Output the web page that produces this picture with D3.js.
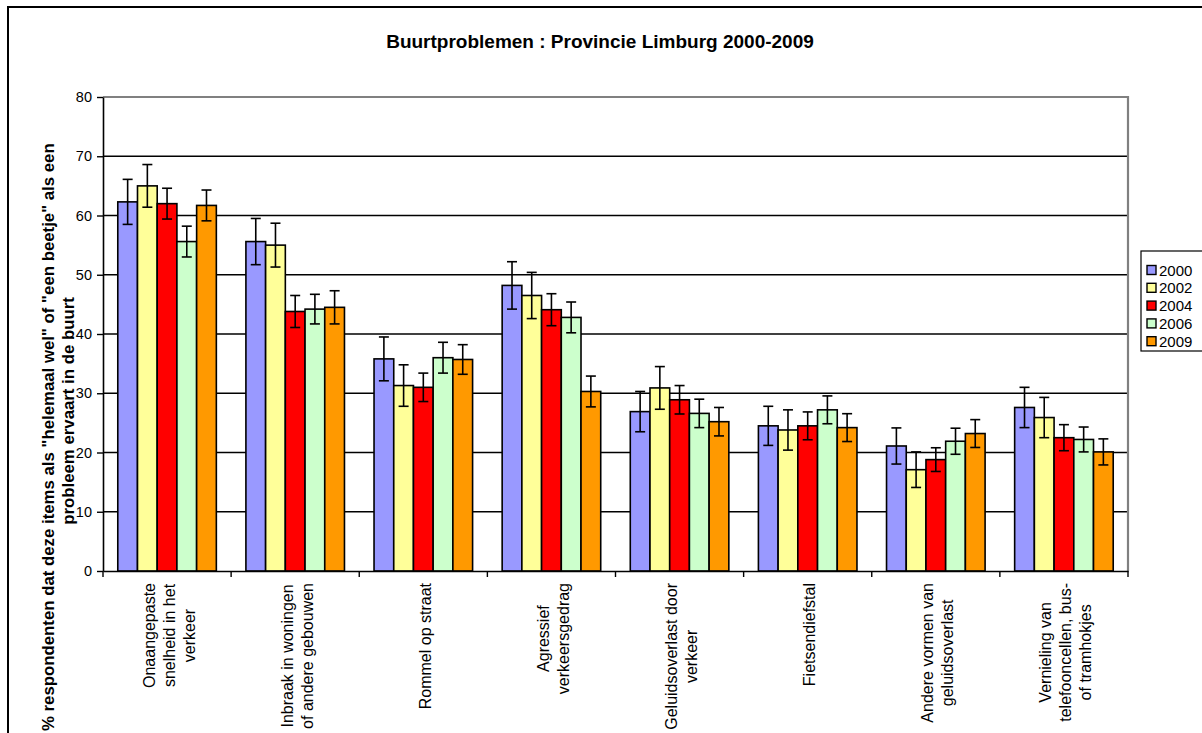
<!DOCTYPE html>
<html><head><meta charset="utf-8">
<script src="https://cdn.jsdelivr.net/npm/d3@7"></script>
<style>
body{margin:0;background:#fff}
svg{display:block}
text{font-family:"Liberation Sans",Arial,Helvetica,sans-serif;fill:#000}
</style>
</head><body>
<svg id="chart" width="1202" height="733"></svg>
<script>
const chartTitle = "Buurtproblemen : Provincie Limburg 2000-2009";
const yTitleLines = ['% respondenten dat deze items als "helemaal wel" of "een beetje" als een', 'probleem ervaart in de buurt'];
const categories = [
  ["Onaangepaste", "snelheid in het", "verkeer"],
  ["Inbraak in woningen", "of andere gebouwen"],
  ["Rommel op straat"],
  ["Agressief", "verkeersgedrag"],
  ["Geluidsoverlast door", "verkeer"],
  ["Fietsendiefstal"],
  ["Andere vormen van", "geluidsoverlast"],
  ["Vernieling van", "telefooncellen, bus-", "of tramhokjes"]
];
const years = ["2000", "2002", "2004", "2006", "2009"];
const colors = ["#9999FF", "#FFFF99", "#FF0000", "#CCFFCC", "#FF9900"];
const yTicks = [0, 10, 20, 30, 40, 50, 60, 70, 80];

const v2000 = [62.3, 55.6, 35.8, 48.2, 26.9, 24.5, 21.1, 27.6];
const v2002 = [65.0, 55.0, 31.3, 46.5, 30.9, 23.8, 17.1, 25.9];
const v2004 = [62.0, 43.8, 31.0, 44.1, 28.9, 24.5, 18.8, 22.5];
const v2006 = [55.6, 44.2, 36.0, 42.8, 26.6, 27.2, 21.9, 22.2];
const v2009 = [61.7, 44.5, 35.7, 30.3, 25.2, 24.2, 23.2, 20.1];

const e2000 = [3.8, 3.9, 3.7, 4.0, 3.4, 3.3, 3.05, 3.4];
const e2002 = [3.6, 3.7, 3.5, 3.9, 3.6, 3.4, 3.0, 3.4];
const e2004 = [2.6, 2.7, 2.4, 2.7, 2.4, 2.35, 2.0, 2.2];
const e2006 = [2.6, 2.5, 2.6, 2.6, 2.4, 2.35, 2.2, 2.1];
const e2009 = [2.6, 2.8, 2.5, 2.6, 2.4, 2.35, 2.35, 2.2];

const seriesValues = [v2000, v2002, v2004, v2006, v2009];
const seriesErrors = [e2000, e2002, e2004, e2006, e2009];

const svg = d3.select("#chart");
svg.append("rect").attr("width", 1202).attr("height", 733).attr("fill", "#fff");
// outer chart border
svg.append("rect").attr("x", 8).attr("y", 7).attr("width", 1220).attr("height", 760)
  .attr("fill", "none").attr("stroke", "#000").attr("stroke-width", 2);

const L = 103, R = 1128, T = 97, B = 571;
const x = d3.scaleBand().domain(d3.range(categories.length)).range([L, R]).paddingInner(0).paddingOuter(0);
const xs = d3.scaleBand().domain(years).range([0, x.bandwidth()]).paddingInner(0).paddingOuter(0.75);
const y = d3.scaleLinear().domain([0, 80]).range([B, T]);

// gridlines
svg.append("g").selectAll("line").data(yTicks.filter(t => t > 0 && t < 80)).join("line")
  .attr("x1", L).attr("x2", R).attr("y1", d => y(d)).attr("y2", d => y(d))
  .attr("stroke", "#000").attr("stroke-width", 1.4);
// plot area border top/right (gray)
svg.append("path").attr("d", `M${L},${y(80)}H${R}V${B}`).attr("fill", "none")
  .attr("stroke", "#808080").attr("stroke-width", 2.2);

// bars
const groups = svg.append("g").selectAll("g").data(categories).join("g")
  .attr("transform", (d, i) => `translate(${x(i)},0)`);
years.forEach((yr, s) => {
  groups.append("rect")
    .attr("x", xs(yr)).attr("width", xs.bandwidth())
    .attr("y", (d, i) => y(seriesValues[s][i]))
    .attr("height", (d, i) => B - y(seriesValues[s][i]))
    .attr("fill", colors[s]).attr("stroke", "#000").attr("stroke-width", 1.6);
});
// error bars
years.forEach((yr, s) => {
  const cx = xs(yr) + xs.bandwidth() / 2;
  const eg = groups.append("g");
  eg.append("line").attr("x1", cx).attr("x2", cx)
    .attr("y1", (d, i) => y(seriesValues[s][i] + seriesErrors[s][i]))
    .attr("y2", (d, i) => y(seriesValues[s][i] - seriesErrors[s][i]))
    .attr("stroke", "#000").attr("stroke-width", 1.6);
  [1, -1].forEach(sg => {
    eg.append("line").attr("x1", cx - 5).attr("x2", cx + 5)
      .attr("y1", (d, i) => y(seriesValues[s][i] + sg * seriesErrors[s][i]))
      .attr("y2", (d, i) => y(seriesValues[s][i] + sg * seriesErrors[s][i]))
      .attr("stroke", "#000").attr("stroke-width", 1.6);
  });
});

// y axis
const yAxis = svg.append("g").attr("transform", `translate(${L},0)`)
  .call(d3.axisLeft(y).tickValues(yTicks).tickSize(6).tickPadding(5).tickSizeOuter(0));
yAxis.select(".domain").attr("stroke", "#000").attr("stroke-width", 1.6);
yAxis.selectAll(".tick line").attr("stroke", "#000").attr("stroke-width", 1.4);
yAxis.selectAll(".tick text").attr("font-size", 14.5).attr("font-family", '"Liberation Sans",Arial,sans-serif').attr("fill", "#000");

// x axis
const xAxis = svg.append("g").attr("transform", `translate(0,${B})`)
  .call(d3.axisBottom(x).tickSize(0).tickSizeOuter(0).tickFormat(""));
xAxis.select(".domain").attr("stroke", "#000").attr("stroke-width", 1.6);
svg.append("g").selectAll("line").data(d3.range(categories.length + 1)).join("line")
  .attr("x1", i => L + i * x.step()).attr("x2", i => L + i * x.step())
  .attr("y1", B).attr("y2", B + 6).attr("stroke", "#000").attr("stroke-width", 1.4);

// x labels (rotated, centered lines)
const lineH = 20;
categories.forEach((lines, i) => {
  const cx = x(i) + x.bandwidth() / 2 + 2;
  const t = svg.append("text").attr("font-size", 16).attr("text-anchor", "middle");
  lines.forEach((ln, k) => {
    t.append("tspan").attr("x", 0).attr("y", (k - (lines.length - 1) / 2) * lineH + 5.5).text(ln);
  });
  let maxLen = 0;
  t.selectAll("tspan").each(function () { maxLen = Math.max(maxLen, this.getComputedTextLength()); });
  t.attr("transform", `translate(${cx},${583 + maxLen / 2}) rotate(-90)`);
});

// title
svg.append("text").attr("x", 600).attr("y", 48).attr("text-anchor", "middle")
  .attr("font-size", 19).attr("font-weight", "bold").text(chartTitle);

// y title
svg.append("text").attr("transform", "translate(54,731) rotate(-90)").attr("text-anchor", "start")
  .attr("font-size", 16.8).attr("font-weight", "bold").text(yTitleLines[0]);
svg.append("text").attr("transform", "translate(74,411) rotate(-90)").attr("text-anchor", "middle")
  .attr("font-size", 16.8).attr("font-weight", "bold").text(yTitleLines[1]);

// legend
const lg = svg.append("g");
lg.append("rect").attr("x", 1141).attr("y", 251).attr("width", 80).attr("height", 100)
  .attr("fill", "#fff").attr("stroke", "#000").attr("stroke-width", 1.2);
years.forEach((yr, s) => {
  const cy = 270 + s * 17.8;
  lg.append("rect").attr("x", 1147).attr("y", cy - 4.5).attr("width", 9).attr("height", 9)
    .attr("fill", colors[s]).attr("stroke", "#000").attr("stroke-width", 1.4);
  lg.append("text").attr("x", 1159).attr("y", cy + 5.5).attr("font-size", 15).text(yr);
});
</script>
</body></html>
